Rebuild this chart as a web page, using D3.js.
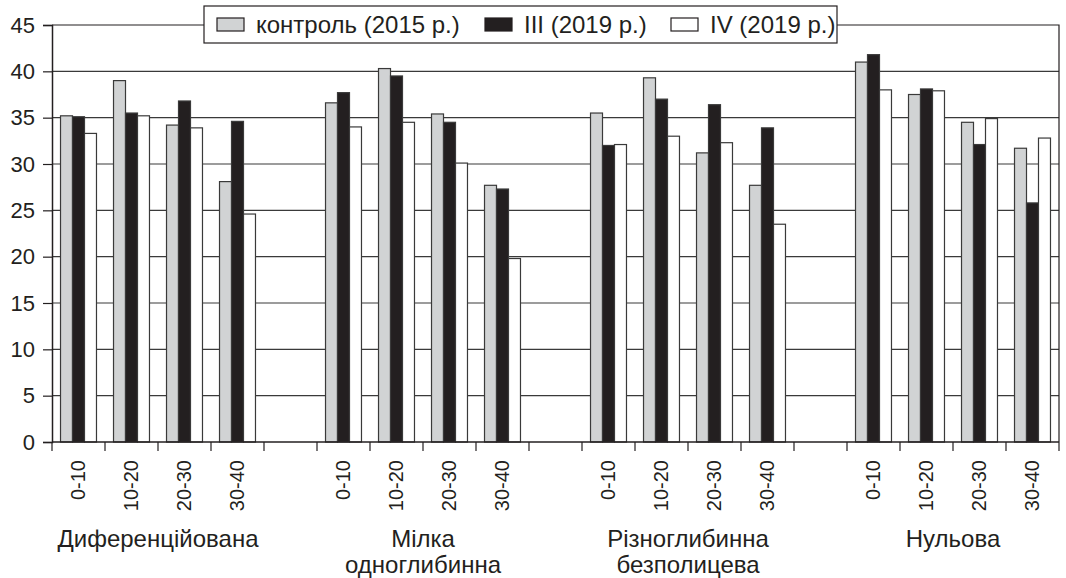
<!DOCTYPE html>
<html>
<head>
<meta charset="utf-8">
<script src="https://cdn.jsdelivr.net/npm/d3@7"></script>
<style>
  body { margin: 0; background: #fff; }
  text { font-family: "Liberation Sans", Arial, sans-serif; fill: #231f20; }
</style>
</head>
<body>
<div id="chart"></div>
<script>
'use strict';

// tillage groups and depth layers
const groups = ['Диференційована', 'Мілка\nодноглибинна', 'Різноглибинна\nбезполицева', 'Нульова'];
const depths = ['0-10', '10-20', '20-30', '30-40'];
const seriesNames = ['контроль (2015 р.)', 'III (2019 р.)', 'IV (2019 р.)'];
const yTicks = [0, 5, 10, 15, 20, 25, 30, 35, 40, 45];

// values per group, 4 depths each
const control2015 = [
  [35.2, 39.0, 34.2, 28.1],
  [36.6, 40.3, 35.4, 27.7],
  [35.5, 39.3, 31.2, 27.7],
  [41.0, 37.5, 34.5, 31.7]
];
const iii2019 = [
  [35.1, 35.5, 36.8, 34.6],
  [37.7, 39.5, 34.5, 27.3],
  [32.0, 37.0, 36.4, 33.9],
  [41.8, 38.1, 32.1, 25.8]
];
const iv2019 = [
  [33.3, 35.2, 33.9, 24.6],
  [34.0, 34.5, 30.1, 19.8],
  [32.1, 33.0, 32.3, 23.5],
  [38.0, 37.9, 34.9, 32.8]
];

const colors = ['#d1d3d4', '#231f20', '#ffffff'];
const allSeries = [control2015, iii2019, iv2019];

const W = 1066, H = 578;
const margin = {top: 25, right: 7, bottom: 136, left: 52};
const x0 = margin.left, x1 = W - margin.right;
const yTop = margin.top, yBot = H - margin.bottom;

// slots: every depth in every group, with one empty slot between groups
let slots = [];
groups.forEach((g, gi) => {
  depths.forEach((d, di) => slots.push({key: gi + '_' + di, gi, di, depth: d}));
  if (gi < groups.length - 1) slots.push({key: 'gap' + gi, gap: true});
});

const svg = d3.select('#chart').append('svg')
    .attr('width', W)
    .attr('height', H);

const xScale = d3.scaleBand()
    .domain(slots.map(s => s.key))
    .range([x0, x1]);

const xInner = d3.scaleBand()
    .domain(seriesNames)
    .range([0, xScale.bandwidth()])
    .paddingInner(0)
    .paddingOuter(0.71);

const yScale = d3.scaleLinear()
    .domain([0, 45])
    .range([yBot, yTop]);

// gridlines
svg.append('g')
    .selectAll('line')
    .data(yTicks.filter(t => t > 0 && t < 45))
    .enter().append('line')
    .attr('x1', x0).attr('x2', x1)
    .attr('y1', d => yScale(d)).attr('y2', d => yScale(d))
    .attr('stroke', '#3a3a3a')
    .attr('stroke-width', 1.2);

// plot frame top + right
svg.append('path')
    .attr('d', `M${x0},${yScale(45)}H${x1}V${yBot}`)
    .attr('fill', 'none')
    .attr('stroke', '#231f20')
    .attr('stroke-width', 1.2);

// bars
const barData = [];
slots.filter(s => !s.gap).forEach(s => {
  seriesNames.forEach((name, si) => {
    barData.push({slot: s.key, name, si, value: allSeries[si][s.gi][s.di]});
  });
});

svg.append('g')
    .selectAll('rect')
    .data(barData)
    .enter().append('rect')
    .attr('x', d => xScale(d.slot) + xInner(d.name))
    .attr('y', d => yScale(d.value))
    .attr('width', xInner.bandwidth())
    .attr('height', d => yBot - yScale(d.value))
    .attr('fill', d => colors[d.si])
    .attr('stroke', '#3a3a3a')
    .attr('stroke-width', 1.2);

// y axis
const yAxis = svg.append('g')
    .attr('transform', `translate(${x0},0)`)
    .call(d3.axisLeft(yScale).tickValues(yTicks).tickSize(9).tickPadding(8));
yAxis.select('.domain').attr('stroke', '#231f20').attr('stroke-width', 1.5);
yAxis.selectAll('.tick line').attr('stroke', '#231f20').attr('stroke-width', 1.2);
yAxis.selectAll('.tick text')
    .style('font-size', '22px')
    .attr('font-family', null)
    .attr('fill', '#231f20');

// x axis: ticks on every slot boundary
const boundaries = slots.map(s => xScale(s.key)).concat([x1]);
svg.append('line')
    .attr('x1', x0).attr('x2', x1)
    .attr('y1', yBot).attr('y2', yBot)
    .attr('stroke', '#231f20')
    .attr('stroke-width', 1.5);
svg.append('g')
    .selectAll('line')
    .data(boundaries)
    .enter().append('line')
    .attr('x1', d => d).attr('x2', d => d)
    .attr('y1', yBot).attr('y2', yBot + 9)
    .attr('stroke', '#231f20')
    .attr('stroke-width', 1.2);

// depth labels, rotated
svg.append('g')
    .selectAll('text')
    .data(slots.filter(s => !s.gap))
    .enter().append('text')
    .attr('transform', d => `translate(${xScale(d.key) + xScale.bandwidth() / 2 - 1},${yBot + 18}) rotate(-90)`)
    .attr('text-anchor', 'end')
    .attr('dy', '0.35em')
    .style('font-size', '20px')
    .text(d => d.depth);

// group labels
groups.forEach((g, gi) => {
  const first = xScale(gi + '_0');
  const last = xScale(gi + '_3') + xScale.bandwidth();
  const t = svg.append('text')
      .attr('x', (first + last) / 2)
      .attr('y', 547)
      .attr('text-anchor', 'middle')
      .style('font-size', '24px');
  g.split('\n').forEach((line, li) => {
    t.append('tspan')
        .attr('x', (first + last) / 2)
        .attr('dy', li === 0 ? 0 : 26)
        .text(line);
  });
});

// legend
const legend = svg.append('g');
legend.append('rect')
    .attr('x', 204).attr('y', 6)
    .attr('width', 633).attr('height', 37)
    .attr('fill', '#fff')
    .attr('stroke', '#231f20')
    .attr('stroke-width', 1.2);
const legendX = [217, 485, 671];
seriesNames.forEach((name, i) => {
  legend.append('rect')
      .attr('x', legendX[i]).attr('y', 18)
      .attr('width', 27).attr('height', 13)
      .attr('fill', colors[i])
      .attr('stroke', '#231f20')
      .attr('stroke-width', 1.2);
  legend.append('text')
      .attr('x', legendX[i] + 39).attr('y', 33)
      .style('font-size', '24px')
      .text(name);
});
</script>
</body>
</html>
